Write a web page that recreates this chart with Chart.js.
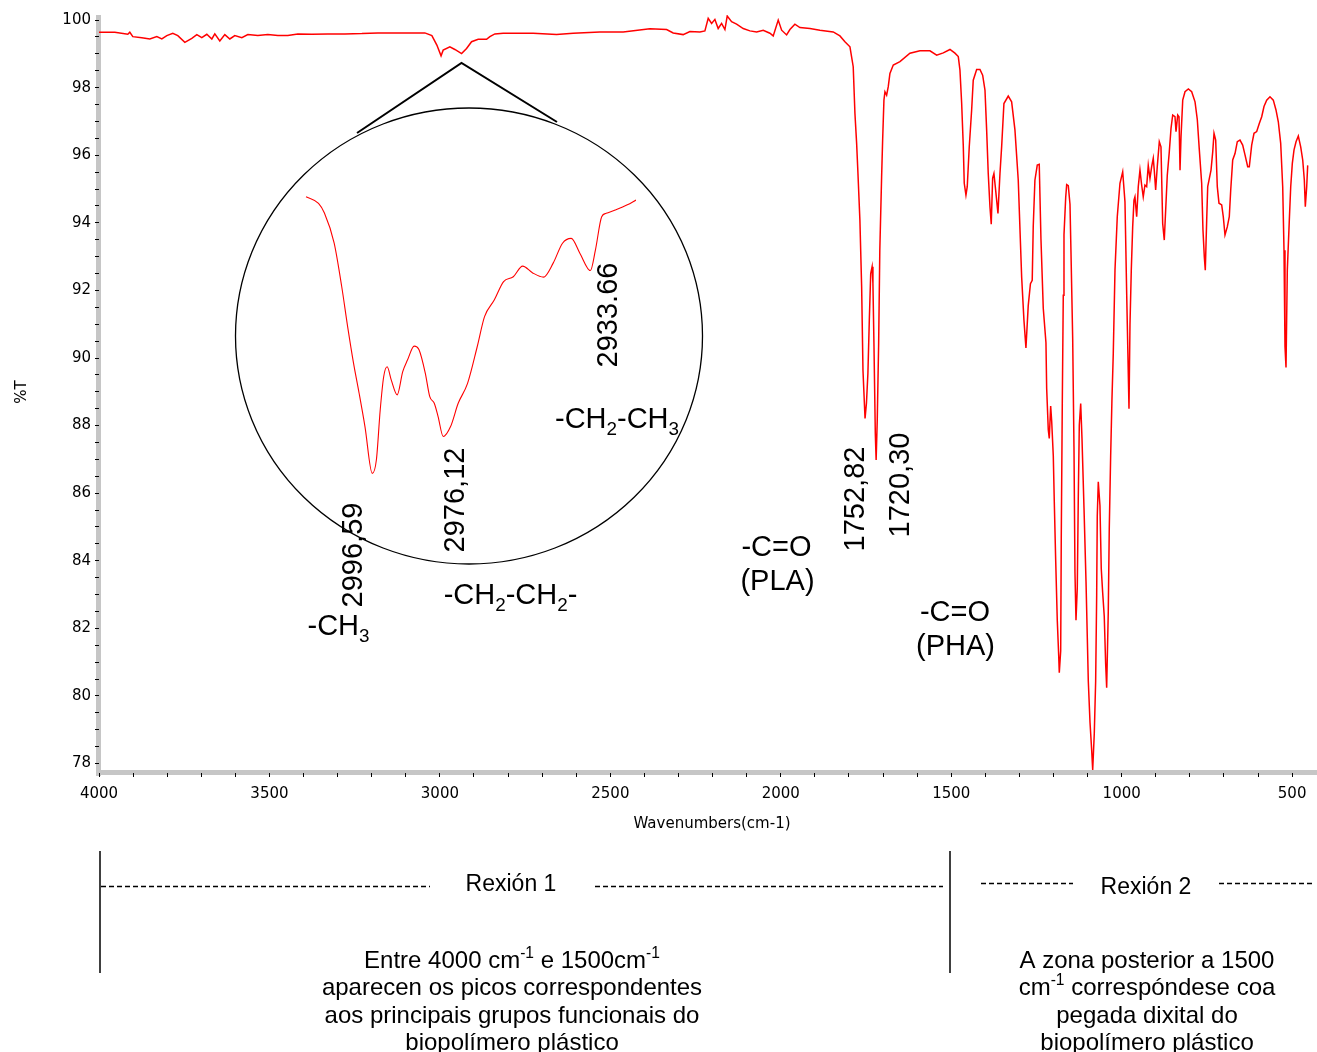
<!DOCTYPE html>
<html>
<head>
<meta charset="utf-8">
<script src="https://cdn.jsdelivr.net/npm/chart.js@4.4.1/dist/chart.umd.min.js"></script>
<style>
  html, body { margin: 0; padding: 0; background: #fff; overflow: hidden; }
  #wrap { position: relative; width: 1317px; height: 1052px; }
  #main { position: absolute; left: 0; top: 0; }
  #zoom { position: absolute; left: 295px; top: 186px; }
</style>
</head>
<body>
<div id="wrap">
  <canvas id="main" width="1317" height="1052"></canvas>
  <canvas id="zoom" width="351" height="307"></canvas>
</div>
<script>
/* ===== DATA ===== */
// FTIR spectrum: [wavenumber (cm-1), %T]
const spectrum = [
  [4000, 99.64], [3953.6, 99.64], [3915.5, 99.58], [3909.6, 99.64], [3900.8, 99.51],
  [3874.4, 99.48], [3850.9, 99.44], [3830.4, 99.51], [3815.7, 99.44], [3801.0, 99.54],
  [3783.5, 99.61], [3768.8, 99.54], [3748.2, 99.34], [3727.7, 99.46], [3713.1, 99.57],
  [3698.4, 99.48], [3683.7, 99.58], [3669.0, 99.44], [3660.3, 99.59], [3645.6, 99.38],
  [3630.9, 99.57], [3616.2, 99.44], [3601.6, 99.54], [3581.0, 99.48], [3563.4, 99.57],
  [3534.1, 99.54], [3504.8, 99.57], [3475.4, 99.54], [3446.1, 99.54], [3416.7, 99.59],
  [3375.7, 99.58], [3328.7, 99.59], [3278.8, 99.59], [3228.9, 99.60], [3182.0, 99.62],
  [3132.1, 99.62], [3082.2, 99.62], [3044.1, 99.62], [3023.5, 99.54], [3008.9, 99.26],
  [2996.6, 98.94], [2990.4, 99.11], [2970.7, 99.21], [2956.1, 99.13], [2936.4, 99.01],
  [2921.7, 99.16], [2907.1, 99.36], [2887.7, 99.43], [2863.1, 99.43], [2853.4, 99.51],
  [2838.7, 99.59], [2814.4, 99.61], [2726.4, 99.61], [2657.8, 99.57], [2608.9, 99.61],
  [2530.7, 99.65], [2462.3, 99.65], [2384.0, 99.74], [2334.9, 99.72], [2315.6, 99.62],
  [2286.3, 99.57], [2266.6, 99.66], [2237.3, 99.65], [2222.6, 99.68], [2212.9, 100.05],
  [2202.9, 99.90], [2193.3, 100.02], [2183.6, 99.75], [2173.6, 99.90], [2163.9, 99.72],
  [2157.1, 100.12], [2144.3, 99.95], [2129.6, 99.88], [2110.2, 99.75], [2090.5, 99.68],
  [2070.9, 99.65], [2051.5, 99.70], [2031.9, 99.61], [2022.2, 99.53], [2007.5, 100.0],
  [1997.5, 99.70], [1982.9, 99.56], [1973.2, 99.72], [1958.6, 99.88], [1943.9, 99.78],
  [1914.5, 99.75], [1885.2, 99.70], [1846.2, 99.65], [1826.5, 99.53], [1811.8, 99.36],
  [1797.1, 99.21], [1787.5, 98.62], [1782.5, 97.24], [1777.5, 96.35], [1773.6, 95.46],
  [1767.9, 94.08], [1762.8, 92.11], [1758.9, 89.64], [1752.82, 88.21], [1748.7, 88.66],
  [1744.4, 89.55], [1740.3, 91.12], [1736.2, 92.50], [1732.1, 92.70], [1729.7, 92.21],
  [1726.7, 90.43], [1722.7, 87.77], [1720.30, 86.98], [1717.0, 88.16], [1712.9, 90.43],
  [1709.5, 93.19], [1704.2, 95.36], [1701.2, 96.45], [1697.4, 97.63], [1694.4, 97.88],
  [1689.5, 97.78], [1684.7, 98.03], [1679.8, 98.42], [1670.0, 98.67], [1650.4, 98.77],
  [1621.1, 99.02], [1591.7, 99.09], [1562.4, 99.09], [1542.7, 98.96], [1523.3, 99.03],
  [1503.7, 99.13], [1489.1, 99.02], [1479.3, 98.92], [1474.4, 98.52], [1469.4, 97.54],
  [1464.7, 96.30], [1461.8, 95.17], [1456.8, 94.82], [1453.0, 95.07], [1447.1, 96.25],
  [1440.1, 97.34], [1435.4, 98.22], [1425.4, 98.54], [1415.7, 98.54], [1407.8, 98.37],
  [1401.0, 97.93], [1396.1, 96.75], [1391.4, 95.46], [1386.4, 94.48], [1382.6, 93.96],
  [1378.5, 95.32], [1374.7, 95.46], [1369.7, 94.97], [1362.9, 94.28], [1357.0, 95.46],
  [1352.1, 96.25], [1345.4, 97.53], [1332.7, 97.75], [1322.8, 97.58], [1313.1, 96.75],
  [1303.4, 95.27], [1293.4, 92.40], [1286.7, 91.12], [1280.8, 90.30], [1274.1, 91.55],
  [1267.6, 92.20], [1262.4, 92.30], [1259.4, 93.90], [1254.5, 95.26], [1247.6, 95.71],
  [1241.8, 95.73], [1236.8, 93.53], [1230.0, 91.47], [1222.1, 90.45], [1220.0, 89.10],
  [1215.3, 87.88], [1212.4, 87.62], [1208.3, 88.58], [1205.3, 88.13], [1200.6, 87.11],
  [1197.7, 85.76], [1193.6, 84.03], [1188.9, 82.24], [1184.8, 81.21], [1183.0, 80.69],
  [1178.9, 81.33], [1177.2, 84.67], [1174.2, 88.65], [1171.3, 91.86], [1169.2, 93.65],
  [1164.2, 94.75], [1161.3, 95.13], [1156.6, 95.10], [1151.6, 94.55], [1148.7, 93.14],
  [1143.7, 90.58], [1139.9, 87.37], [1137.0, 83.65], [1134.0, 82.24], [1130.2, 83.20],
  [1127.3, 85.83], [1124.3, 88.01], [1120.2, 88.65], [1116.4, 87.62], [1110.5, 85.56],
  [1104.6, 83.39], [1100.8, 81.72], [1097.9, 80.44], [1092.9, 79.22], [1087.9, 78.38],
  [1085.0, 77.81], [1080.3, 78.90], [1076.3, 80.44], [1073.3, 83.00], [1071.6, 85.32],
  [1068.6, 86.34], [1063.7, 85.63], [1059.9, 83.77], [1055.8, 83.07], [1051.1, 82.36],
  [1047.0, 80.95], [1044.0, 80.24], [1039.3, 82.49], [1036.4, 84.93], [1032.3, 87.11],
  [1028.5, 88.78], [1024.6, 90.14], [1019.6, 92.60], [1012.9, 94.18], [1005.0, 95.17],
  [997.0, 95.51], [990.3, 94.62], [985.3, 91.91], [978.5, 88.50], [975.6, 91.00],
  [971.8, 92.60], [967.7, 93.88], [963.9, 94.67], [961.0, 94.77], [956.0, 94.18],
  [951.3, 95.07], [946.3, 95.56], [941.4, 95.12], [936.7, 94.77], [931.7, 95.12],
  [926.7, 95.07], [922.0, 95.70], [917.0, 95.31], [912.0, 95.66], [907.3, 95.91],
  [904.4, 95.56], [900.3, 94.97], [895.6, 95.66], [889.6, 96.40], [884.7, 96.25],
  [879.7, 93.98], [875.0, 93.49], [870.0, 94.58], [866.2, 95.41], [860.3, 96.10],
  [855.2, 96.80], [850.3, 97.19], [843.6, 97.14], [840.6, 96.70], [835.6, 97.19],
  [831.8, 97.14], [828.8, 95.56], [825.9, 96.55], [820.9, 97.63], [814.2, 97.88],
  [804.4, 97.96], [794.6, 97.88], [784.8, 97.58], [778.1, 97.05], [772.2, 96.16],
  [765.3, 95.17], [761.5, 93.79], [757.6, 93.00], [754.7, 92.60], [750.6, 94.08],
  [747.6, 95.07], [742.9, 95.31], [737.9, 95.56], [732.9, 96.10], [729.1, 96.65],
  [724.2, 96.45], [719.5, 95.07], [714.5, 94.58], [706.6, 94.53], [701.9, 94.18],
  [696.9, 93.64], [690.2, 93.88], [684.3, 94.18], [680.1, 94.97], [674.3, 95.86],
  [667.5, 96.05], [660.8, 96.40], [652.9, 96.45], [645.0, 96.30], [638.2, 96.01],
  [630.3, 95.66], [625.6, 95.66], [618.6, 96.30], [611.8, 96.65], [603.9, 96.70],
  [596.3, 96.94], [589.2, 97.14], [582.5, 97.44], [574.6, 97.63], [564.9, 97.73],
  [555.2, 97.63], [547.3, 97.34], [540.5, 96.99], [533.5, 96.35], [527.6, 95.07],
  [523.8, 93.19], [520.9, 90.34], [517.9, 89.72], [514.1, 92.60], [508.2, 94.08],
  [504.1, 95.07], [499.4, 95.76], [494.4, 96.16], [488.5, 96.40], [481.8, 96.57],
  [474.8, 96.25], [468.9, 95.86], [464.2, 95.27], [461.3, 94.48], [457.2, 95.07],
  [454.3, 95.70]
];

// magnified C-H stretching band shown inside the circle
const insetWave = [
  3015.7, 3012.1, 3010.4, 3007.6, 3005.4, 3003.7, 3002.0, 3000.4, 2998.7, 2996.59,
  2995.4, 2994.3, 2993.3, 2992.3, 2991.1, 2989.4, 2987.8, 2986.4, 2984.5, 2983.1,
  2981.3, 2980.0, 2978.7, 2977.6, 2976.12, 2974.0, 2971.8, 2969.1, 2966.3, 2964.2,
  2961.4, 2958.7, 2955.9, 2953.2, 2950.4, 2947.2, 2944.4, 2941.7, 2939.2, 2936.7,
  2933.66, 2932.2, 2930.4, 2929.1, 2926.5, 2923.0, 2920.5
];
const insetT = [
  99.698, 99.68, 99.654, 99.573, 99.454, 99.346, 99.247, 99.166, 99.075, 98.948,
  98.985, 99.12, 99.21, 99.237, 99.201, 99.161, 99.224, 99.256, 99.293, 99.283,
  99.22, 99.156, 99.138, 99.102, 99.048, 99.075, 99.138, 99.192, 99.292, 99.373,
  99.418, 99.468, 99.481, 99.51, 99.492, 99.48, 99.518, 99.572, 99.585, 99.545,
  99.498, 99.554, 99.644, 99.653, 99.662, 99.676, 99.689
];

// axis ranges and tick steps
const X_MIN = 427, X_MAX = 4000, X_STEP = 100, X_LABEL_EVERY = 500;
const Y_MIN = 77.72, Y_MAX = 100.15, Y_STEP = 0.5, Y_LABEL_EVERY = 2;
/* ================ */

const TICK_FONT = "'DejaVu Sans', sans-serif";
const TXT_FONT = "'Liberation Sans', Arial, sans-serif";

// draws a line of text made of runs: [text, ''|'sub'|'sup'], centred on cx,cy
function drawRuns(ctx, runs, cx, cy, size, family) {
  family = family || TXT_FONT;
  const small = size * 0.65;
  let w = 0;
  runs.forEach(([t, m]) => {
    ctx.font = (m ? small : size) + "px " + family;
    w += ctx.measureText(t).width;
  });
  let x = cx - w / 2;
  const base = cy + size * 0.358;
  ctx.textAlign = "left";
  ctx.textBaseline = "alphabetic";
  runs.forEach(([t, m]) => {
    ctx.font = (m ? small : size) + "px " + family;
    const dy = m === "sub" ? size * 0.22 : m === "sup" ? -size * 0.4 : 0;
    ctx.fillText(t, x, base + dy);
    x += ctx.measureText(t).width;
  });
}

function drawVertical(ctx, runs, cx, cy, size, family) {
  ctx.save();
  ctx.translate(cx, cy);
  ctx.rotate(-Math.PI / 2);
  drawRuns(ctx, runs, 0, 0, size, family);
  ctx.restore();
}

function line(ctx, pts, width, dash) {
  ctx.save();
  ctx.lineWidth = width;
  ctx.setLineDash(dash || []);
  ctx.beginPath();
  pts.forEach(([x, y], i) => (i ? ctx.lineTo(x, y) : ctx.moveTo(x, y)));
  ctx.stroke();
  ctx.restore();
}

// grey axis bars, under the tick marks
const axisBars = {
  id: "axisBars",
  beforeDraw(chart) {
    const { ctx, chartArea: a } = chart;
    ctx.save();
    ctx.fillStyle = "#c6c6c6";
    ctx.fillRect(a.left - 3, a.top, 5, a.bottom - a.top + 3);
    ctx.fillRect(a.left - 3, a.bottom - 3, a.right - a.left + 3, 5);
    ctx.restore();
  }
};

// callout circle, band labels and the region notes below the plot
const notes = {
  id: "notes",
  afterDraw(chart) {
    const ctx = chart.ctx;
    ctx.save();
    ctx.fillStyle = "#000";
    ctx.strokeStyle = "#000";

    // axis titles
    drawRuns(ctx, [["Wavenumbers(cm-1)", ""]], 712, 823, 15, TICK_FONT);
    drawVertical(ctx, [["%T", ""]], 21, 392, 15, TICK_FONT);

    // zoom callout
    line(ctx, [[357, 133], [461.5, 63], [557, 122]], 2);
    ctx.lineWidth = 1.3;
    ctx.beginPath();
    ctx.ellipse(469, 336, 233.5, 228, 0, 0, Math.PI * 2);
    ctx.stroke();

    // band labels
    const S = 29;
    drawVertical(ctx, [["2996,59", ""]], 352, 555, S);
    drawVertical(ctx, [["2976,12", ""]], 454, 500, S);
    drawVertical(ctx, [["2933.66", ""]], 607, 315, S);
    drawVertical(ctx, [["1752,82", ""]], 854, 499, S);
    drawVertical(ctx, [["1720,30", ""]], 898.5, 485, S);
    drawRuns(ctx, [["-CH", ""], ["3", "sub"]], 338.5, 625, S);
    drawRuns(ctx, [["-CH", ""], ["2", "sub"], ["-CH", ""], ["2", "sub"], ["-", ""]], 510.5, 594, S);
    drawRuns(ctx, [["-CH", ""], ["2", "sub"], ["-CH", ""], ["3", "sub"]], 617, 418, S);
    drawRuns(ctx, [["-C=O", ""]], 776.5, 546, S);
    drawRuns(ctx, [["(PLA)", ""]], 777.5, 580, S);
    drawRuns(ctx, [["-C=O", ""]], 955, 611, S);
    drawRuns(ctx, [["(PHA)", ""]], 955.5, 645, S);

    // regions
    line(ctx, [[100, 851], [100, 973]], 1.5);
    line(ctx, [[950, 851], [950, 973]], 1.5);
    line(ctx, [[101, 886.5], [430, 886.5]], 1.4, [5, 3]);
    line(ctx, [[595, 886.5], [943, 886.5]], 1.4, [5, 3]);
    line(ctx, [[981, 883.5], [1073, 883.5]], 1.4, [5, 3]);
    line(ctx, [[1219, 883.5], [1312, 883.5]], 1.4, [5, 3]);
    drawRuns(ctx, [["Rexión 1", ""]], 511, 883, 23);
    drawRuns(ctx, [["Rexión 2", ""]], 1146, 886, 23);

    const P = 24;
    drawRuns(ctx, [["Entre 4000 cm", ""], ["-1", "sup"], [" e 1500cm", ""], ["-1", "sup"]], 512, 959, P);
    drawRuns(ctx, [["aparecen os picos correspondentes", ""]], 512, 986, P);
    drawRuns(ctx, [["aos principais grupos funcionais do", ""]], 512, 1014, P);
    drawRuns(ctx, [["biopolímero plástico", ""]], 512, 1041, P);
    drawRuns(ctx, [["A zona posterior a 1500", ""]], 1147, 959, P);
    drawRuns(ctx, [["cm", ""], ["-1", "sup"], [" correspóndese coa", ""]], 1147, 986, P);
    drawRuns(ctx, [["pegada dixital do", ""]], 1147, 1014, P);
    drawRuns(ctx, [["biopolímero plástico", ""]], 1147, 1041, P);
    ctx.restore();
  }
};

new Chart(document.getElementById("main"), {
  type: "line",
  data: {
    datasets: [{
      data: spectrum.map(([x, y]) => ({ x, y })),
      borderColor: "#ff0000",
      borderWidth: 1.5,
      pointRadius: 0,
      tension: 0,
      fill: false
    }]
  },
  options: {
    responsive: false,
    animation: false,
    events: [],
    layout: { padding: { top: 15, right: 0, bottom: 0, left: 0 } },
    plugins: { legend: { display: false }, tooltip: { enabled: false } },
    scales: {
      x: {
        type: "linear",
        reverse: true,
        min: X_MIN,
        max: X_MAX,
        afterFit: (s) => { s.height = 279; },
        border: { display: false },
        grid: { drawOnChartArea: false, drawTicks: true, tickLength: 4, tickColor: "#000", tickWidth: 1 },
        ticks: {
          stepSize: X_STEP,
          includeBounds: false,
          autoSkip: false,
          maxRotation: 0,
          padding: 8,
          color: "#000",
          font: { family: TICK_FONT, size: 15 },
          callback: (v) => (v % X_LABEL_EVERY === 0 ? String(v) : "")
        }
      },
      y: {
        min: Y_MIN,
        max: Y_MAX,
        afterFit: (s) => { s.width = 99; },
        border: { display: false },
        grid: { drawOnChartArea: false, drawTicks: true, tickLength: 4, tickColor: "#000", tickWidth: 1 },
        ticks: {
          stepSize: Y_STEP,
          includeBounds: false,
          autoSkip: false,
          padding: 4,
          color: "#000",
          font: { family: TICK_FONT, size: 15 },
          callback: (v) => {
            const r = Math.round(v);
            return Math.abs(v - r) < 1e-6 && r % Y_LABEL_EVERY === 0 ? String(r) : "";
          }
        }
      }
    }
  },
  plugins: [axisBars, notes]
});

// inset: magnified view, no axes
new Chart(document.getElementById("zoom"), {
  type: "line",
  data: {
    datasets: [{
      data: insetWave.map((x, i) => ({ x, y: insetT[i] })),
      borderColor: "#ff0000",
      borderWidth: 1.1,
      pointRadius: 0,
      cubicInterpolationMode: "monotone",
      fill: false
    }]
  },
  options: {
    responsive: false,
    animation: false,
    events: [],
    layout: { padding: 10 },
    plugins: { legend: { display: false }, tooltip: { enabled: false } },
    scales: {
      x: { type: "linear", display: false, reverse: true, min: 2920.5, max: 3016.0 },
      y: { display: false, min: 98.922, max: 99.70 }
    }
  }
});
</script>
</body>
</html>
